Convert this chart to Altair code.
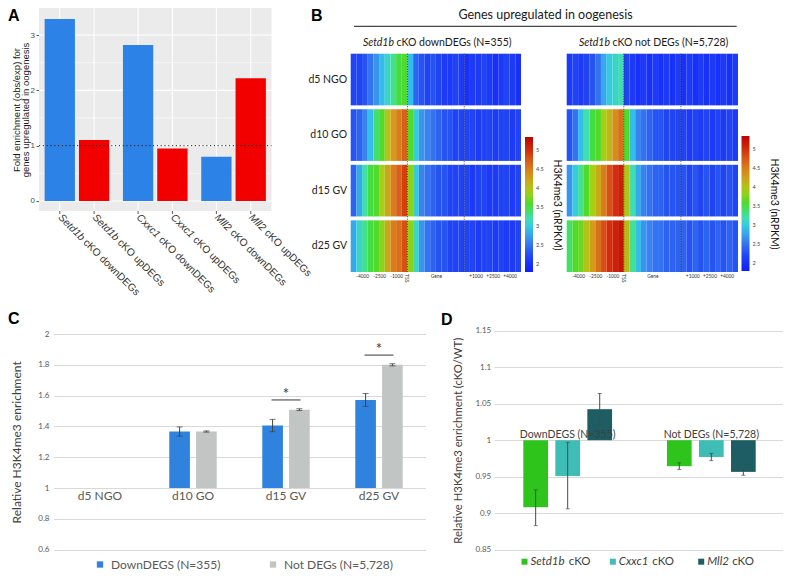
import altair as alt
import pandas as pd

FONT = "Lato"
ARIAL = "Liberation Sans"

# ------------------------------------------------------------------ Panel A data
A_GENES = ["Setd1b", "Cxxc1", "Mll2"]
A_TYPES = ["downDEGs", "upDEGs"]
A_BAR_GENE = ["Setd1b", "Setd1b", "Cxxc1", "Cxxc1", "Mll2", "Mll2"]
A_BAR_TYPE = ["downDEGs", "upDEGs", "downDEGs", "upDEGs", "downDEGs", "upDEGs"]
A_VALUES = [3.29, 1.10, 2.82, 0.95, 0.80, 2.22]
A_MAJOR = [0, 1, 2, 3]
A_MINOR = [0.5, 1.5, 2.5]
A_REF = [1]
A_COLORS = ["#2c82e6", "#f20000"]
A_YTITLE = ["Fold enrichment (obs/exp) for", "genes upregulated in oogenesis"]
A_YDOMAIN = [-0.181, 3.488]

# ------------------------------------------------------------------ Panel B data
B_STAGES = ["d5 NGO", "d10 GO", "d15 GV", "d25 GV"]
B_START, B_STEP, B_NCOL = -5000, 500, 30  # meta-gene axis: TSS at 0, TES at 5000
B_DOWN = [
    [2.2, 2.2, 2.3, 2.5, 2.7, 2.9, 3.1, 3.3, 3.5, 3.6, 2.9, 2.4, 2.3, 2.2, 2.3, 2.2, 2.1, 2.1, 2.2, 2.1,
     2.0, 2.1, 2.1, 2.2, 2.1, 2.0, 2.1, 2.2, 2.1, 2.0],
    [2.3, 2.4, 2.6, 2.9, 3.4, 3.6, 4.0, 4.3, 4.5, 4.7, 3.6, 3.0, 2.7, 2.6, 2.5, 2.4, 2.3, 2.3, 2.2, 2.2,
     2.2, 2.2, 2.1, 2.2, 2.2, 2.1, 2.2, 2.2, 2.1, 2.2],
    [2.4, 2.8, 3.2, 3.5, 3.6, 3.9, 4.2, 4.5, 4.7, 4.9, 3.8, 3.0, 2.6, 2.5, 2.4, 2.3, 2.3, 2.2, 2.2, 2.2,
     2.2, 2.1, 2.2, 2.2, 2.1, 2.1, 2.2, 2.2, 2.1, 2.2],
    [2.8, 3.1, 3.3, 3.5, 3.6, 3.8, 4.2, 4.5, 4.6, 4.8, 3.8, 3.1, 2.7, 2.5, 2.4, 2.3, 2.3, 2.2, 2.2, 2.2,
     2.2, 2.2, 2.1, 2.2, 2.2, 2.1, 2.2, 2.1, 2.1, 2.2],
]
B_NOT = [
    [2.1, 2.2, 2.1, 2.2, 2.3, 2.5, 2.8, 3.0, 3.1, 3.2, 2.2, 2.1, 2.0, 2.1, 2.0, 2.1, 2.0, 2.1, 2.0, 2.1,
     2.0, 2.1, 2.0, 2.1, 2.0, 2.1, 2.0, 2.1, 2.0, 2.1],
    [2.3, 2.5, 2.9, 3.2, 3.5, 3.6, 3.9, 4.1, 4.4, 4.6, 3.6, 2.9, 2.6, 2.5, 2.4, 2.3, 2.3, 2.2, 2.2, 2.2,
     2.2, 2.1, 2.2, 2.1, 2.2, 2.1, 2.2, 2.1, 2.2, 2.1],
    [2.7, 3.0, 3.3, 3.6, 3.9, 4.2, 4.5, 4.8, 5.0, 5.1, 4.0, 3.2, 2.8, 2.6, 2.5, 2.4, 2.4, 2.3, 2.3, 2.3,
     2.3, 2.2, 2.3, 2.2, 2.3, 2.2, 2.3, 2.2, 2.3, 2.2],
    [3.4, 3.6, 3.7, 4.0, 4.3, 4.6, 4.8, 5.0, 5.1, 5.2, 4.1, 3.3, 2.9, 2.7, 2.6, 2.5, 2.5, 2.4, 2.4, 2.4,
     2.4, 2.3, 2.4, 2.3, 2.4, 2.3, 2.4, 2.3, 2.4, 2.3],
]
B_MARKERS = [0, 5000]
B_TICKS = [-4000, -2500, -1000, 2500, 6000, 7500, 9000]
B_TICK_TEXT = ["-4000", "-2500", "-1000", "Gene", "+1000", "+2500", "+4000"]
HM_DOMAIN = [1.8, 2.2, 2.6, 2.95, 3.25, 3.55, 3.9, 4.3, 4.7, 5.0, 5.35]
HM_COLORS = ["#0f1cff", "#2044f4", "#3a82ef", "#33c6ea", "#45e0a6", "#43dc2e",
             "#a6cf14", "#d69a1a", "#d9601a", "#d22d0c", "#b90303"]
HM_LEGEND_VALUES = [2, 2.5, 3, 3.5, 4, 4.5, 5]

# ------------------------------------------------------------------ Panel C data
C_STAGES = ["d5 NGO", "d10 GO", "d15 GV", "d25 GV"]
C_SERIES = ["DownDEGS (N=355)", "Not DEGs (N=5,728)"]
C_DOWN = [1.0, 1.367, 1.406, 1.572]
C_DOWN_ERR = [0.0, 0.03, 0.04, 0.042]
C_NOT = [1.0, 1.367, 1.509, 1.800]
C_NOT_ERR = [0.0, 0.004, 0.006, 0.007]
C_SIG_STAGE = ["d15 GV", "d25 GV"]
C_SIG_LEVEL = [1.572, 1.863]
C_YTICKS = [0.6, 0.8, 1.0, 1.2, 1.4, 1.6, 1.8, 2.0]
C_COLORS = ["#2f83de", "#c1c5c4"]

# ------------------------------------------------------------------ Panel D data
D_GROUPS = ["DownDEGS (N=355)", "Not DEGs (N=5,728)"]
D_GENES = ["Setd1b", "Cxxc1", "Mll2"]
D_VAL_DOWN = [0.908, 0.951, 1.0425]
D_LO_DOWN = [0.883, 0.906, 1.021]
D_HI_DOWN = [0.932, 0.997, 1.064]
D_VAL_NOT = [0.9644, 0.977, 0.9566]
D_LO_NOT = [0.960, 0.972, 0.952]
D_HI_NOT = [0.969, 0.982, 0.961]
D_YTICKS = [0.85, 0.9, 0.95, 1.0, 1.05, 1.1, 1.15]
D_COLORS = ["#2ec41c", "#3ebdb6", "#1d5d63"]

# ------------------------------------------------------------------ helpers
ARIAL_W = {"S": 667, "e": 556, "t": 278, "d": 556, "1": 556, "b": 556, "C": 722,
           "x": 500, "c": 500, "M": 833, "l": 222, "2": 556, " ": 278}
LATO_W = {"S": 514, "e": 530, "t": 367, "d": 573, "1": 580, "b": 573, "C": 676,
          "x": 490, "c": 474, "M": 897, "l": 251, "2": 580, " ": 193}


def tw(s, size, table):
    return sum(table.get(ch, 550) for ch in s) / 1000.0 * size


# ================================================================== Panel A
a_df = pd.DataFrame({"gene": A_BAR_GENE, "type": A_BAR_TYPE, "value": A_VALUES})
a_df["rest"] = "cKO " + a_df["type"]

xA_scale = alt.Scale(range=[31, 263.5], paddingInner=0.175, paddingOuter=0.072)
xoA_scale = alt.Scale(paddingInner=0.117, paddingOuter=0)
yA_scale = alt.Scale(domain=A_YDOMAIN, range=[203, 0], nice=False, zero=False)
yA_axis = alt.Axis(
    orient="left", offset=-31, values=A_MAJOR, grid=False, domain=False, ticks=True,
    tickSize=3, tickColor="#333333", tickWidth=0.8, labelFont=ARIAL, labelFontSize=8,
    labelColor="#4d4d4d", labelPadding=1.5, title=A_YTITLE, titleFont=ARIAL,
    titleFontSize=9.5, titleColor="#1a1a1a", titleFontWeight="normal", titleX=-20,
    titleBaseline="alphabetic", titleLineHeight=9.5)
xA = alt.X("gene:N", sort=A_GENES, scale=xA_scale, axis=None)
xoA = alt.XOffset("type:N", sort=A_TYPES, scale=xoA_scale)


def yA(field):
    return alt.Y(field, scale=yA_scale, axis=yA_axis)


a_bg = alt.Chart(pd.DataFrame({"lo": [A_YDOMAIN[0]], "hi": [A_YDOMAIN[1]]})).mark_rect(
    color="#ebebeb").encode(x=alt.value(31), x2=alt.value(263.5), y=yA("lo:Q"), y2="hi:Q")
a_major = alt.Chart(pd.DataFrame({"v": A_MAJOR})).mark_rule(color="white", strokeWidth=1.1).encode(
    y=yA("v:Q"), x=alt.value(31), x2=alt.value(263.5))
a_minor = alt.Chart(pd.DataFrame({"v": A_MINOR})).mark_rule(color="white", strokeWidth=0.5).encode(
    y=yA("v:Q"), x=alt.value(31), x2=alt.value(263.5))
a_vgrid = alt.Chart(a_df).mark_rule(color="white", strokeWidth=1.0).encode(
    x=xA, xOffset=xoA, y=alt.value(0), y2=alt.value(203))
a_bars = alt.Chart(a_df).mark_bar().encode(
    x=xA, xOffset=xoA, y=yA("value:Q"), y2=alt.datum(0),
    color=alt.Color("type:N", sort=A_TYPES, scale=alt.Scale(domain=A_TYPES, range=A_COLORS), legend=None))
a_ref = alt.Chart(pd.DataFrame({"v": A_REF})).mark_rule(
    color="#222222", strokeWidth=1, strokeDash=[1.2, 2.6]).encode(
    y=yA("v:Q"), x=alt.value(31), x2=alt.value(263.5))
a_ticks = alt.Chart(a_df).mark_rule(color="#333333", strokeWidth=0.8).encode(
    x=xA, xOffset=xoA, y=alt.value(203), y2=alt.value(206))
a_lab = alt.Chart(a_df).mark_text(
    align="left", baseline="middle", angle=45, font=ARIAL, fontStyle="italic",
    fontSize=10.3, color="#333333").encode(x=xA, xOffset=xoA, y=alt.value(208), text="gene:N")
a_rest = []
for g in A_GENES:
    a_rest.append(alt.Chart(a_df).transform_filter(alt.datum.gene == g).mark_text(
        align="left", baseline="middle", angle=45, font=ARIAL, fontSize=10.3, color="#333333",
        dx=tw(g, 10.3, ARIAL_W) + tw(" ", 10.3, ARIAL_W)).encode(
        x=xA, xOffset=xoA, y=alt.value(208), text="rest:N"))

panelA = alt.layer(a_bg, a_major, a_minor, a_vgrid, a_bars, a_ref, a_ticks, a_lab, *a_rest)

# ================================================================== Panel B
label_expr = "''"
for v, t in reversed(list(zip(B_TICKS, B_TICK_TEXT))):
    label_expr = f"datum.value == {v} ? '{t}' : ({label_expr})"


def heatmap(rows, x_range, row_axis, legend_x, legend_y):
    recs = []
    for stage, vals in zip(B_STAGES, rows):
        for i, v in enumerate(vals):
            x0 = B_START + B_STEP * i
            recs.append({"stage": stage, "x0": x0, "x1": x0 + B_STEP, "value": v})
    df = pd.DataFrame(recs)
    xs = alt.Scale(domain=[B_START, B_START + B_STEP * B_NCOL], range=x_range, nice=False, zero=False)
    x_axis = alt.Axis(
        orient="bottom", offset=-299, values=B_TICKS, labelExpr=label_expr, domain=False,
        ticks=False, grid=False, labelFontSize=4.8, labelColor="#333333", labelPadding=1.5,
        title=None, labelFlush=False, labelOverlap=False)
    ys = alt.Scale(range=[45.7, 264], paddingInner=0.07, paddingOuter=0)
    cs = alt.Scale(domain=HM_DOMAIN, range=HM_COLORS, interpolate="rgb")
    rect = alt.Chart(df).mark_rect().encode(
        x=alt.X("x0:Q", scale=xs, axis=x_axis),
        x2="x1:Q",
        y=alt.Y("stage:N", sort=B_STAGES, scale=ys, axis=row_axis),
        color=alt.Color("value:Q", scale=cs, legend=alt.Legend(
            orient="none", legendX=legend_x, legendY=legend_y, direction="vertical",
            gradientLength=135, gradientThickness=8, gradientStrokeWidth=0,
            values=HM_LEGEND_VALUES, format=".2~f", labelFontSize=5.5, labelColor="#444444",
            labelOffset=3, title="H3K4me3 (nRPKM)", titleOrient="right",
            titleAnchor="middle", titleFontSize=10.5, titleFontWeight="normal",
            titleColor="#111111", titlePadding=8, padding=0)))
    marks = alt.Chart(pd.DataFrame({"pos": B_MARKERS})).mark_rule(
        color="#222222", strokeWidth=0.8, strokeDash=[1, 1.5]).encode(
        x=alt.X("pos:Q", scale=xs, axis=x_axis), y=alt.value(45.7), y2=alt.value(264))
    tss = alt.Chart(pd.DataFrame({"pos": [0], "t": ["TSS"]})).mark_text(
        angle=90, align="left", baseline="middle", fontSize=5, color="#333333").encode(
        x=alt.X("pos:Q", scale=xs, axis=x_axis), y=alt.value(266), text="t:N")
    return alt.layer(rect, marks, tss)


row_axis = alt.Axis(orient="left", offset=-342.7, domain=False, ticks=False, grid=False,
                    labelFontSize=10.5, labelColor="#222222", labelPadding=4, title=None)
panelBL = heatmap(B_DOWN, [342.7, 513], row_axis, 517, 129)
panelBR = heatmap(B_NOT, [558.7, 730], None, 733.5, 128)

# ================================================================== Panel C
c_df = pd.DataFrame({
    "stage": C_STAGES * 2,
    "series": [C_SERIES[0]] * 4 + [C_SERIES[1]] * 4,
    "value": C_DOWN + C_NOT,
    "err": C_DOWN_ERR + C_NOT_ERR,
})
c_df["lo"] = c_df["value"] - c_df["err"]
c_df["hi"] = c_df["value"] + c_df["err"]
c_err = c_df[c_df["err"] > 0]

xC_scale = alt.Scale(range=[45.5, 417.5], paddingInner=0.49, paddingOuter=0.245)
xoC = alt.XOffset("series:N", sort=C_SERIES, scale=alt.Scale(paddingInner=0.23, paddingOuter=0))
yC_scale = alt.Scale(domain=[0.6, 2.0], range=[541.7, 326], nice=False, zero=False)
xC_axis = alt.Axis(orient="bottom", offset=-82.9, domain=False, ticks=False, grid=False,
                   labelAngle=0, labelFontSize=12, labelColor="#595959", labelPadding=2, title=None)
yC_axis = alt.Axis(orient="left", offset=-45.5, values=C_YTICKS, format=".1~f", domain=False,
                   ticks=False, grid=True, gridColor="#d9d9d9", gridWidth=1, labelFontSize=8,
                   labelColor="#595959", labelPadding=4.5, title="Relative H3K4me3 enrichment",
                   titleFontSize=12, titleColor="#404040", titleFontWeight="normal",
                   titleX=-33.5, titleBaseline="alphabetic")


def xC():
    return alt.X("stage:N", sort=C_STAGES, scale=xC_scale, axis=xC_axis)


def yC(field):
    return alt.Y(field, scale=yC_scale, axis=yC_axis)


c_bars = alt.Chart(c_df).mark_bar().encode(
    x=xC(), xOffset=xoC, y=yC("value:Q"), y2=alt.datum(1),
    color=alt.Color("series:N", sort=C_SERIES, scale=alt.Scale(domain=C_SERIES, range=C_COLORS),
                    legend=alt.Legend(orient="none", legendX=86, legendY=550.5,
                                      direction="horizontal", title=None, symbolType="square",
                                      symbolSize=40, symbolStrokeWidth=0, labelFontSize=12,
                                      labelColor="#595959", columnPadding=46, labelOffset=5,
                                      padding=0)))
c_rule = alt.Chart(c_err).mark_rule(color="#404040", strokeWidth=1).encode(
    x=xC(), xOffset=xoC, y=yC("lo:Q"), y2="hi:Q")
c_cap_lo = alt.Chart(c_err).mark_tick(color="#404040", thickness=1, size=6, orient="horizontal").encode(
    x=xC(), xOffset=xoC, y=yC("lo:Q"))
c_cap_hi = alt.Chart(c_err).mark_tick(color="#404040", thickness=1, size=6, orient="horizontal").encode(
    x=xC(), xOffset=xoC, y=yC("hi:Q"))
c_sig_df = pd.DataFrame({"stage": C_SIG_STAGE, "level": C_SIG_LEVEL, "mark": ["*"] * len(C_SIG_STAGE)})
c_sig_line = alt.Chart(c_sig_df).mark_tick(color="#222222", thickness=1.3, size=29,
                                           orient="horizontal").encode(x=xC(), y=yC("level:Q"))
c_sig_txt = alt.Chart(c_sig_df).mark_text(fontSize=15, baseline="alphabetic", dy=-1,
                                          color="#333333").encode(
    x=xC(), y=yC("level:Q"), text="mark:N")

panelC = alt.layer(c_bars, c_rule, c_cap_lo, c_cap_hi, c_sig_line, c_sig_txt)

# ================================================================== Panel D
d_df = pd.DataFrame({
    "group": [D_GROUPS[0]] * 3 + [D_GROUPS[1]] * 3,
    "gene": D_GENES * 2,
    "value": D_VAL_DOWN + D_VAL_NOT,
    "lo": D_LO_DOWN + D_LO_NOT,
    "hi": D_HI_DOWN + D_HI_NOT,
})
xD_scale = alt.Scale(range=[486, 777], paddingInner=0.382, paddingOuter=0.204)
xoD = alt.XOffset("gene:N", sort=D_GENES, scale=alt.Scale(paddingInner=0.228, paddingOuter=0))
yD_scale = alt.Scale(domain=[0.85, 1.15], range=[541.7, 322.7], nice=False, zero=False)
xD_axis = alt.Axis(orient="top", offset=-432.2, domain=False, ticks=False, grid=False,
                   labelAngle=0, labelFontSize=10.5, labelColor="#404040", labelPadding=1,
                   title=None, zindex=1)
yD_axis = alt.Axis(orient="left", offset=-486, values=D_YTICKS, format=".2~f", domain=False,
                   ticks=False, grid=True, gridColor="#d9d9d9", labelFontSize=8,
                   labelColor="#595959", labelPadding=3.3,
                   title="Relative H3K4me3 enrichment (cKO/WT)", titleFontSize=11.3,
                   titleColor="#404040", titleFontWeight="normal", titleX=-32.2,
                   titleBaseline="alphabetic")


def xD():
    return alt.X("group:N", sort=D_GROUPS, scale=xD_scale, axis=xD_axis)


def yD(field):
    return alt.Y(field, scale=yD_scale, axis=yD_axis)


d_color = alt.Color("gene:N", sort=D_GENES, scale=alt.Scale(domain=D_GENES, range=D_COLORS), legend=None)
d_bars = alt.Chart(d_df).mark_bar().encode(
    x=xD(), xOffset=xoD, y=yD("value:Q"), y2=alt.datum(1), color=d_color)
d_rule = alt.Chart(d_df).mark_rule(color="#4a4a4a", strokeWidth=1).encode(
    x=xD(), xOffset=xoD, y=yD("lo:Q"), y2="hi:Q")
d_cap_lo = alt.Chart(d_df).mark_tick(color="#4a4a4a", thickness=1, size=4, orient="horizontal").encode(
    x=xD(), xOffset=xoD, y=yD("lo:Q"))
d_cap_hi = alt.Chart(d_df).mark_tick(color="#4a4a4a", thickness=1, size=4, orient="horizontal").encode(
    x=xD(), xOffset=xoD, y=yD("hi:Q"))
panelD = alt.layer(d_bars, d_rule, d_cap_lo, d_cap_hi)

# manual legend for D (gene names in italics)
dl_df = pd.DataFrame({"gene": D_GENES, "rest": ["cKO"] * 3})
xDL = alt.X("gene:N", sort=D_GENES, scale=alt.Scale(type="point", range=[516.5, 693.2], padding=0),
            axis=None)
dl_sq = alt.Chart(dl_df).mark_square(size=36, opacity=1).encode(x=xDL, y=alt.value(553.7), color=d_color)
dl_it = alt.Chart(dl_df).mark_text(align="left", baseline="middle", dx=6, fontSize=11.5,
                                   fontStyle="italic", color="#404040").encode(
    x=xDL, y=alt.value(553.7), text="gene:N")
dl_rest = []
for g in D_GENES:
    dl_rest.append(alt.Chart(dl_df).transform_filter(alt.datum.gene == g).mark_text(
        align="left", baseline="middle", fontSize=11.5, color="#404040",
        dx=6 + tw(g, 11.5, LATO_W) + tw(" ", 11.5, LATO_W)).encode(
        x=xDL, y=alt.value(553.7), text="rest:N"))
legendD = alt.layer(dl_sq, dl_it, *dl_rest)

# ================================================================== annotations
def label(text, x, y, **kw):
    return alt.Chart(pd.DataFrame({"t": [text]})).mark_text(**kw).encode(
        x=alt.value(x), y=alt.value(y), text="t:N")


letter_kw = dict(font=ARIAL, fontWeight="bold", fontSize=16, align="left", baseline="top", color="black")
ann = [
    label("A", 0, 0, **letter_kw),
    label("B", 303, 0, **letter_kw),
    label("C", 0, 303, **letter_kw),
    label("D", 433, 304, **letter_kw),
    label("Genes upregulated in oogenesis", 537.5, 7, fontSize=12.5, align="center",
          baseline="middle", color="#1a1a1a"),
    label("Setd1b", 386, 35, fontSize=10.5, fontStyle="italic", align="right", baseline="middle",
          color="#1a1a1a"),
    label("cKO downDEGs (N=355)", 388.5, 35, fontSize=10.5, align="left", baseline="middle",
          color="#1a1a1a"),
    label("Setd1b", 602, 35, fontSize=10.5, fontStyle="italic", align="right", baseline="middle",
          color="#1a1a1a"),
    label("cKO not DEGs (N=5,728)", 604.5, 35, fontSize=10.5, align="left", baseline="middle",
          color="#1a1a1a"),
    alt.Chart(pd.DataFrame({"k": [0]})).mark_rule(color="#1a1a1a", strokeWidth=1).encode(
        x=alt.value(346), x2=alt.value(728.7), y=alt.value(18.3)),
]

chart = alt.layer(
    panelA, panelBL, panelBR, panelC, panelD, legendD, *ann
).resolve_scale(
    x="independent", y="independent", color="independent", xOffset="independent"
).properties(
    width=775, height=563, autosize=alt.AutoSizeParams(type="none"), padding=0
).configure_view(
    strokeWidth=0
).configure_axis(
    labelFont=FONT, titleFont=FONT
).configure_legend(
    labelFont=FONT, titleFont=FONT
).configure_text(
    font=FONT
)

chart.save("out.html", embed_options={"renderer": "svg", "actions": False})
